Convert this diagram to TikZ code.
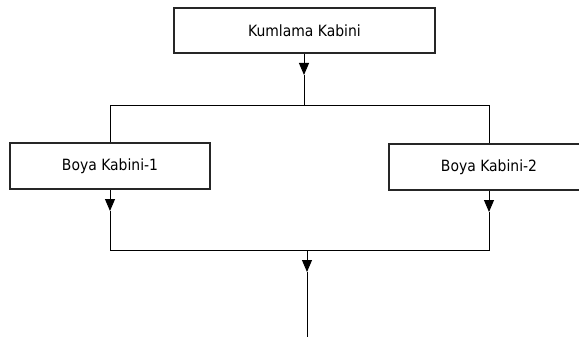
\documentclass[tikz,border=0pt]{standalone}
\usepackage{fontspec}
\setmainfont{DejaVu Sans Condensed}
\usetikzlibrary{arrows.meta}
\begin{document}
\begin{tikzpicture}[x=1pt,y=-1pt,
  box/.style={draw=black!85,line width=1.3pt,fill=white,inner sep=0pt,font=\fontsize{15.5}{17}\selectfont},
  conn/.style={draw=black,line width=0.9pt},
  arr/.style={conn,-{Triangle[width=10pt,length=12pt]}}]
\useasboundingbox (0,0) rectangle (579,337);
\node[box,minimum width=261pt,minimum height=45pt] (kum) at (304.5,30.5) {Kumlama Kabini};
\node[box,minimum width=200pt,minimum height=46pt] (b1) at (110,166) {Boya Kabini-1};
\node[box,minimum width=200pt,minimum height=46pt] (b2) at (489,167) {Boya Kabini-2};
\coordinate (t0) at (304,75);
\coordinate (j0) at (304,105);
\coordinate (l0) at (110,105);
\coordinate (r0) at (489,105);
\coordinate (t1) at (110,211);
\coordinate (t2) at (489,212);
\coordinate (l1) at (110,250);
\coordinate (r1) at (489,250);
\coordinate (j1) at (307,250);
\coordinate (t3) at (307,272);
\coordinate (e) at (307,337);
\draw[arr] (kum.south -| t0) -- (t0);
\draw[conn] (t0) -- (j0);
\draw[conn] (b1.north) -- (l0) -- (r0) -- (b2.north);
\draw[arr] (b1.south) -- (t1);
\draw[arr] (b2.south) -- (t2);
\draw[conn] (t1) -- (l1) -- (r1) -- (t2);
\draw[arr] (j1) -- (t3);
\draw[conn] (t3) -- (e);
\end{tikzpicture}
\end{document}
